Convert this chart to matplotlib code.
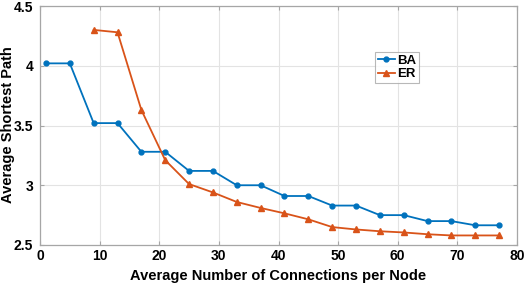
import matplotlib
matplotlib.use("Agg")
import matplotlib.pyplot as plt

x_ba = [1, 5, 9, 13, 17, 21, 25, 29, 33, 37, 41, 45, 49, 53, 57, 61, 65, 69, 73, 77]
y_ba = [4.02, 4.02, 3.52, 3.52, 3.28, 3.28, 3.12, 3.12, 3.00, 3.00, 2.91, 2.91,
        2.83, 2.83, 2.75, 2.75, 2.70, 2.70, 2.665, 2.665]
x_er = [9, 13, 17, 21, 25, 29, 33, 37, 41, 45, 49, 53, 57, 61, 65, 69, 73, 77]
y_er = [4.30, 4.28, 3.63, 3.21, 3.01, 2.94, 2.86, 2.81, 2.765, 2.715, 2.65, 2.63,
        2.615, 2.605, 2.59, 2.58, 2.58, 2.58]
xticks = [0, 10, 20, 30, 40, 50, 60, 70, 80]
yticks = [2.5, 3, 3.5, 4, 4.5]
ytick_labels = ["2.5", "3", "3.5", "4", "4.5"]

plt.rcParams['font.family'] = ['Liberation Sans', 'DejaVu Sans']
plt.rcParams['font.weight'] = 'bold'

fig = plt.figure(figsize=(5.26, 2.86), dpi=100)
W, H = 526, 286
ax = fig.add_axes([40 / W, 1 - 245 / H, (517 - 40) / W, (245 - 6) / H])

ax.plot(x_ba, y_ba, color='#0072BD', marker='o', markersize=3.5, linewidth=1.3, label='BA')
ax.plot(x_er, y_er, color='#D95319', marker='^', markersize=4, linewidth=1.3, label='ER')

ax.set_xlim(0, 80)
ax.set_ylim(2.5, 4.5)
ax.set_xticks(xticks)
ax.set_yticks(yticks)
ax.set_yticklabels(ytick_labels)
ax.grid(True, color='#e3e3e3', linewidth=0.8)
ax.set_axisbelow(True)
for s in ax.spines.values():
    s.set_color('#a6a6a6')
    s.set_linewidth(0.9)
ax.tick_params(direction='in', length=3, width=0.8, color='#a6a6a6',
               top=True, right=True, labelsize=10, labelcolor='black')
ax.tick_params(axis='y', pad=5)
ax.tick_params(axis='x', pad=3)
for lab in ax.get_xticklabels() + ax.get_yticklabels():
    lab.set_fontweight('bold')

ax.set_xlabel('Average Number of Connections per Node', fontsize=10.5, fontweight='bold')
ax.xaxis.set_label_coords(0.5, -(276 - 245) / 239)
ax.set_ylabel('Average Shortest Path', fontsize=10.5, fontweight='bold')
ax.yaxis.set_label_coords(-(40 - 8) / 477, (245 - 125) / 239)
ax.xaxis.label.set_va('center')
ax.yaxis.label.set_va('center')

leg = ax.legend(loc='upper left', bbox_to_anchor=((375 - 40) / 477, 1 - (52 - 6) / 239),
                fontsize=9.5, frameon=True, fancybox=False, handlelength=1.3,
                handletextpad=0.15, borderpad=0.2, labelspacing=0.1, borderaxespad=0)
leg.get_frame().set_edgecolor('#a6a6a6')
leg.get_frame().set_linewidth(0.8)
for t in leg.get_texts():
    t.set_fontweight('bold')

fig.savefig('out.png', dpi=100)
